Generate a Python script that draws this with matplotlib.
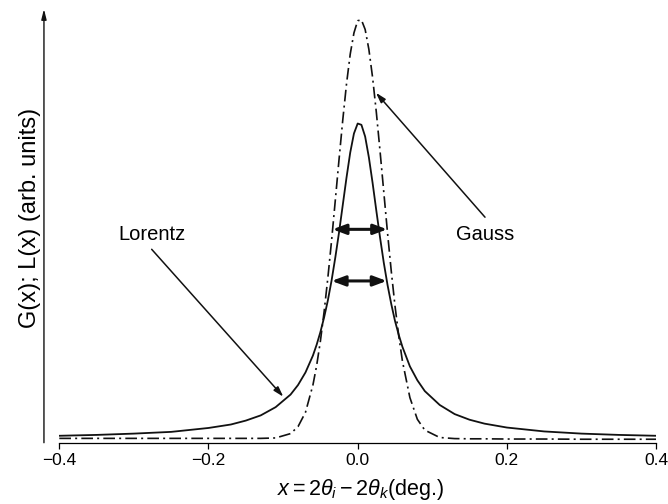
import matplotlib
matplotlib.use('Agg')
import matplotlib.pyplot as plt

plt.rcParams['font.family'] = ['Liberation Sans', 'DejaVu Sans']
plt.rcParams['mathtext.fontset'] = 'custom'
plt.rcParams['mathtext.rm'] = 'Liberation Sans'
plt.rcParams['mathtext.it'] = 'Liberation Sans:italic'

# x = 2theta_i - 2theta_k (deg.)
x = [-0.4, -0.35, -0.3, -0.25, -0.2, -0.17, -0.15, -0.13, -0.11, -0.09, -0.08, -0.07,
     -0.06, -0.055, -0.05, -0.045, -0.04, -0.035, -0.03, -0.025, -0.02, -0.015, -0.01, -0.005,
     0.0, 0.005, 0.01, 0.015, 0.02, 0.025, 0.03, 0.035, 0.04, 0.045, 0.05, 0.055, 0.06,
     0.07, 0.08, 0.09, 0.11, 0.13, 0.15, 0.17, 0.2, 0.25, 0.3, 0.35, 0.4]

# Lorentz profile (solid), arb. units
lorentz = [0.016, 0.018, 0.021, 0.025, 0.034, 0.042, 0.051, 0.063, 0.082, 0.111, 0.133, 0.162,
           0.201, 0.226, 0.255, 0.289, 0.328, 0.374, 0.427, 0.485, 0.548, 0.611, 0.669, 0.713,
           0.736, 0.733, 0.706, 0.658, 0.599, 0.535, 0.473, 0.415, 0.364, 0.320, 0.281, 0.249, 0.221,
           0.176, 0.144, 0.119, 0.087, 0.066, 0.053, 0.044, 0.035, 0.026, 0.021, 0.018, 0.016]

# Gauss profile (dash-dot), arb. units
gauss = [0.010, 0.010, 0.010, 0.010, 0.010, 0.010, 0.010, 0.010, 0.011, 0.021, 0.037, 0.070,
         0.133, 0.178, 0.234, 0.302, 0.380, 0.466, 0.559, 0.653, 0.744, 0.827, 0.896, 0.945,
         0.973, 0.975, 0.953, 0.907, 0.842, 0.762, 0.672, 0.578, 0.484, 0.396, 0.316, 0.247, 0.188,
         0.104, 0.054, 0.029, 0.012, 0.0095, 0.009, 0.009, 0.0085, 0.0085, 0.008, 0.008, 0.008]

xticks = [-0.4, -0.2, 0.0, 0.2, 0.4]
xticklabels = ['\u22120.4', '\u22120.2', '0.0', '0.2', '0.4']

fig = plt.figure(figsize=(6.68, 5.04), dpi=100)
ax = fig.add_axes([0.0888, 0.1216, 0.8933, 0.8605])

ax.plot(x, lorentz, color='#111111', lw=1.3, solid_joinstyle='round')
ax.plot(x, gauss, color='#111111', lw=1.2, linestyle=(0, (7, 2.5, 1.2, 2.5)))

ax.set_xlim(-0.4, 0.4)
ax.set_ylim(0, 1)
for s in ['left', 'top', 'right']:
    ax.spines[s].set_visible(False)
ax.spines['bottom'].set_linewidth(0.9)
ax.set_yticks([])
ax.set_xticks(xticks)
ax.set_xticklabels(xticklabels, fontsize=12.5)
ax.tick_params(axis='x', direction='out', length=4.5, width=0.9, pad=3)

# vertical axis with arrow
ax.annotate('', xy=(-0.4206, 1.0), xytext=(-0.4206, 0.0), annotation_clip=False,
            arrowprops=dict(arrowstyle='-|>,head_length=0.6,head_width=0.15', lw=1.0,
                            color='#111111', shrinkA=0, shrinkB=0))

# FWHM arrows
ax.annotate('', xy=(-0.0337, 0.492), xytext=(0.0395, 0.492),
            arrowprops=dict(arrowstyle='<|-|>,head_length=0.8,head_width=0.3', lw=2.2,
                            color='#111111', shrinkA=0, shrinkB=0))
ax.annotate('', xy=(-0.0349, 0.373), xytext=(0.0389, 0.373),
            arrowprops=dict(arrowstyle='<|-|>,head_length=0.8,head_width=0.3', lw=2.2,
                            color='#111111', shrinkA=0, shrinkB=0))

# labels with pointers
ax.text(-0.2758, 0.479, 'Lorentz', fontsize=14.5, ha='center', va='center')
ax.annotate('', xy=(-0.0997, 0.106), xytext=(-0.2762, 0.446),
            arrowprops=dict(arrowstyle='-|>,head_length=0.6,head_width=0.18', lw=1.1,
                            color='#111111', shrinkA=0, shrinkB=0))
ax.text(0.1707, 0.479, 'Gauss', fontsize=14.5, ha='center', va='center')
ax.annotate('', xy=(0.0245, 0.807), xytext=(0.1707, 0.520),
            arrowprops=dict(arrowstyle='-|>,head_length=0.6,head_width=0.18', lw=1.1,
                            color='#111111', shrinkA=0, shrinkB=0))

fig.text(30 / 668, 1 - 218 / 504, 'G(x); L(x) (arb. units)', rotation=90,
         fontsize=17, ha='center', va='center')
fig.text(361 / 668, 1 - 490 / 504, r'$x = 2\theta_i - 2\theta_k$(deg.)',
         fontsize=15.5, ha='center', va='center')

fig.savefig('out.png', dpi=100)
